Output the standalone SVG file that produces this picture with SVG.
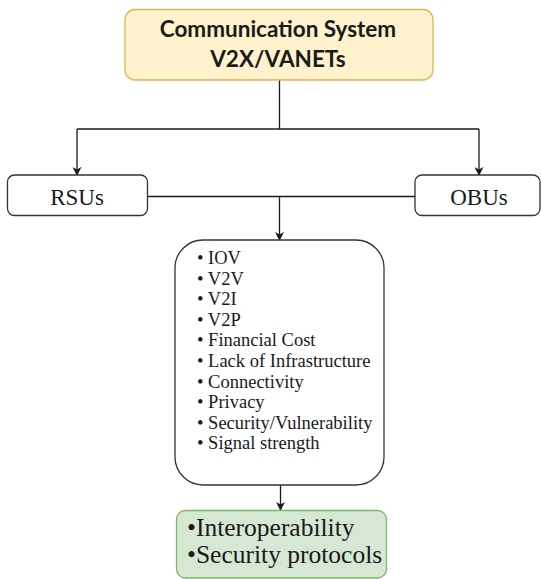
<svg xmlns="http://www.w3.org/2000/svg" width="541" height="579" viewBox="0 0 541 579">
<defs>
<marker id="arr" viewBox="0 0 10 10" refX="9" refY="5" markerWidth="9" markerHeight="9" markerUnits="userSpaceOnUse" orient="auto">
<path d="M0,0 L10,5 L0,10 L3,5 Z" fill="#1a1a1a"/>
</marker>
<style>
.ln{stroke:#1a1a1a;stroke-width:1.3;fill:none}
.box{fill:#ffffff;stroke:#333333;stroke-width:1.3}
</style>
</defs>
<rect width="541" height="579" fill="#ffffff"/>
<g id="connectors">
<path class="ln" d="M279.5,80 V129"/>
<path class="ln" d="M77,129 H479"/>
<path class="ln" d="M77,129 V175" marker-end="url(#arr)"/>
<path class="ln" d="M479,129 V175" marker-end="url(#arr)"/>
<path class="ln" d="M147,196.5 H415"/>
<path class="ln" d="M279.5,196.5 V240" marker-end="url(#arr)"/>
<path class="ln" d="M280.5,485 V510" marker-end="url(#arr)"/>
</g>
<g id="title">
<rect x="125" y="9.5" width="308" height="70.5" rx="10" fill="#fff2cc" stroke="#d6b656" stroke-width="1.3"/>
<g font-family="Lato, 'Open Sans', 'Liberation Sans', sans-serif" font-weight="bold" font-size="22.5" fill="#1a1a1a" text-anchor="middle">
<text x="278" y="37">Communication System</text>
<text x="278" y="67">V2X/VANETs</text>
</g>
</g>
<g id="rsus">
<rect class="box" x="7.5" y="175" width="140" height="40.5" rx="7"/>
<text x="77" y="205" font-family="'Liberation Serif', 'DejaVu Serif', serif" font-size="23" fill="#1a1a1a" text-anchor="middle">RSUs</text>
</g>
<g id="obus">
<rect class="box" x="415" y="175" width="125" height="40.5" rx="7"/>
<text x="479" y="205" font-family="'Liberation Serif', 'DejaVu Serif', serif" font-size="23" fill="#1a1a1a" text-anchor="middle">OBUs</text>
</g>
<g id="list">
<rect class="box" x="175" y="240" width="209" height="245" rx="28"/>
<g font-family="'Liberation Serif', 'DejaVu Serif', serif" font-size="18.5" fill="#1a1a1a">
<text x="197" y="264">• IOV</text>
<text x="197" y="284.6">• V2V</text>
<text x="197" y="305.2">• V2I</text>
<text x="197" y="325.8">• V2P</text>
<text x="197" y="346.4">• Financial Cost</text>
<text x="197" y="367">• Lack of Infrastructure</text>
<text x="197" y="387.6">• Connectivity</text>
<text x="197" y="408.2">• Privacy</text>
<text x="197" y="428.8">• Security/Vulnerability</text>
<text x="197" y="449.4">• Signal strength</text>
</g>
</g>
<g id="solutions">
<rect x="176.5" y="510.5" width="210" height="67.5" rx="9" fill="#d5e8d4" stroke="#82b366" stroke-width="1.3"/>
<g font-family="'Liberation Serif', 'DejaVu Serif', serif" font-size="25.5" fill="#1a1a1a">
<text x="187" y="536">•Interoperability</text>
<text x="187" y="563">•Security protocols</text>
</g>
</g>
</svg>
